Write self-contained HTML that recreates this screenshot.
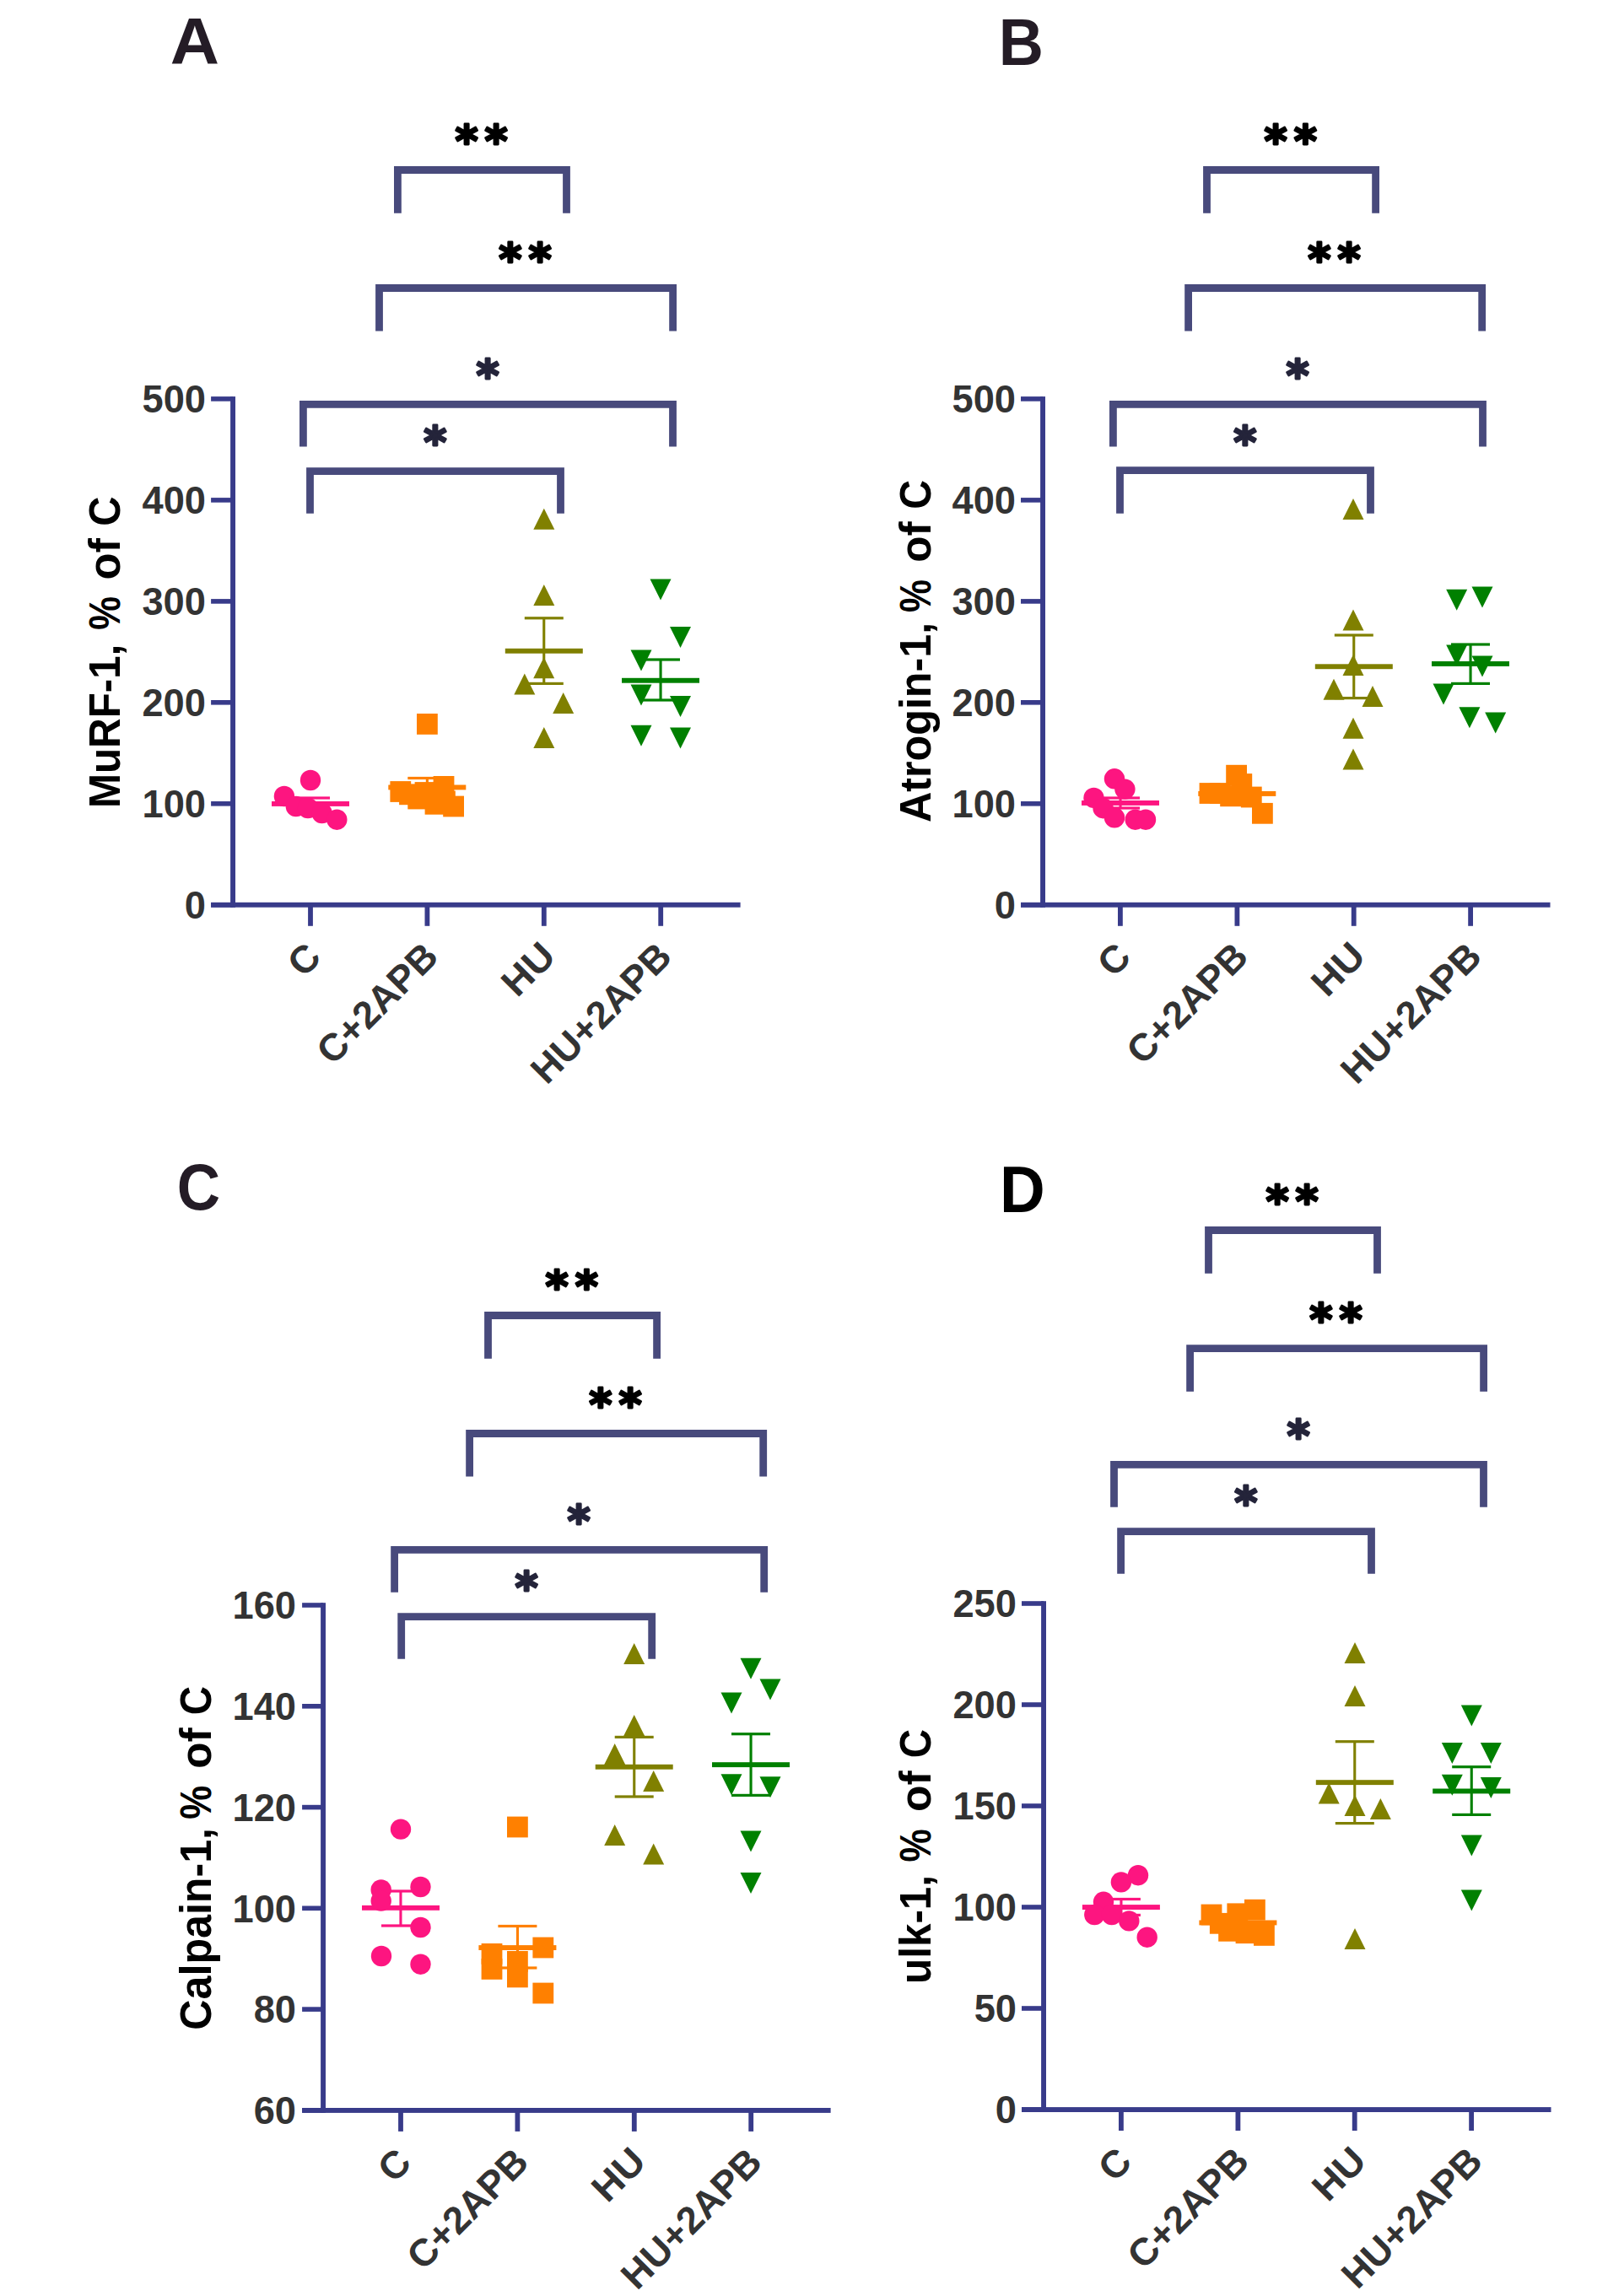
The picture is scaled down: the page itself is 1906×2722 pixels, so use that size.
<!DOCTYPE html>
<html lang="en"><head><meta charset="utf-8"><title>Figure: MuRF-1, Atrogin-1, Calpain-1, ulk-1</title>
<style>html,body{margin:0;padding:0;background:#fff}svg{display:block}text{font-family:"Liberation Sans",sans-serif;font-weight:bold;font-kerning:none}text.st{font-family:"DejaVu Sans","Liberation Sans",sans-serif}</style></head><body>
<svg width="1906" height="2722" viewBox="0 0 1906 2722">
<rect width="1906" height="2722" fill="#fff"/>
<text transform="translate(203.9 76.2) scale(1.0272 1)" x="-2" font-size="78.5" fill="#241c26">A</text>
<text transform="translate(1188.6 76.6) scale(0.9379 1)" x="-5.3" font-size="78.5" fill="#241c26">B</text>
<text transform="translate(212.6 1434.2) scale(0.9060 1)" x="-3.2" font-size="78.5" fill="#241c26">C</text>
<text transform="translate(1190.1 1436.9) scale(0.9472 1)" x="-5.3" font-size="78.5" fill="#000">D</text>
<g id="panelA">
<rect x="273.1" y="470.1" width="5.9" height="605.7" fill="#383b8a"/>
<rect x="250.1" y="1069.8" width="627.5" height="5.9" fill="#383b8a"/>
<rect x="250.1" y="1070" width="26" height="5.6" fill="#383b8a"/>
<text transform="translate(220.6 1089) scale(0.9730 1)" x="-1.8" font-size="46.5" fill="#333333">0</text>
<rect x="250.1" y="950" width="26" height="5.6" fill="#383b8a"/>
<text transform="translate(171.3 969) scale(0.9730 1)" x="-2.9" font-size="46.5" fill="#333333">100</text>
<rect x="250.1" y="830" width="26" height="5.6" fill="#383b8a"/>
<text transform="translate(170 849) scale(0.9730 1)" x="-1.6" font-size="46.5" fill="#333333">200</text>
<rect x="250.1" y="710.1" width="26" height="5.6" fill="#383b8a"/>
<text transform="translate(169.5 729.1) scale(0.9730 1)" x="-1.1" font-size="46.5" fill="#333333">300</text>
<rect x="250.1" y="590.1" width="26" height="5.6" fill="#383b8a"/>
<text transform="translate(169.2 609.1) scale(0.9730 1)" x="-0.7" font-size="46.5" fill="#333333">400</text>
<rect x="250.1" y="470.1" width="26" height="5.6" fill="#383b8a"/>
<text transform="translate(169.9 489.1) scale(0.9730 1)" x="-1.4" font-size="46.5" fill="#333333">500</text>
<rect x="365.1" y="1072.8" width="5.8" height="25" fill="#383b8a"/>
<text transform="translate(382 1138.1) rotate(-45) scale(1.0000 1)" x="-31.5" font-size="45.4" fill="#333333">C</text>
<rect x="503.5" y="1072.8" width="5.8" height="25" fill="#383b8a"/>
<text transform="translate(520.4 1138.1) rotate(-45) scale(1.0000 1)" x="-178.3" font-size="45.4" fill="#333333">C+2APB</text>
<rect x="641.9" y="1072.8" width="5.8" height="25" fill="#383b8a"/>
<text transform="translate(658.8 1138.1) rotate(-45) scale(1.0300 1)" x="-62.8" font-size="45.4" fill="#333333">HU</text>
<rect x="780.3" y="1072.8" width="5.8" height="25" fill="#383b8a"/>
<text transform="translate(797.2 1138.1) rotate(-45) scale(1.0000 1)" x="-211.1" font-size="45.4" fill="#333333">HU+2APB</text>
<text transform="translate(142 954.8) rotate(-90) scale(0.9627 1)" x="-3.4" font-size="51.2" fill="#000">MuRF-1,</text>
<text transform="translate(142 745.6) rotate(-90) scale(0.8741 1)" x="-1.3" font-size="51.2" fill="#000">%</text>
<text transform="translate(142 685.4) rotate(-90) scale(1.0210 1)" x="-2" font-size="51.2" fill="#000">of</text>
<text transform="translate(142 621.8) rotate(-90) scale(0.9559 1)" x="-2.1" font-size="51.2" fill="#000">C</text>
<rect x="322" y="950" width="92" height="5.9" fill="#fd1580"/>
<rect x="366.4" y="946" width="3.1" height="12" fill="#fd1580"/>
<rect x="345" y="944.4" width="46" height="3.2" fill="#fd1580"/>
<rect x="345" y="956.4" width="46" height="3.2" fill="#fd1580"/>
<circle cx="368" cy="925" r="12.2" fill="#fd1580"/>
<circle cx="336.9" cy="944" r="12.2" fill="#fd1580"/>
<circle cx="350.8" cy="956" r="12.2" fill="#fd1580"/>
<circle cx="365" cy="958" r="12.2" fill="#fd1580"/>
<circle cx="381.6" cy="964" r="12.2" fill="#fd1580"/>
<circle cx="399.3" cy="971.7" r="12.2" fill="#fd1580"/>
<rect x="460.3" y="930.5" width="92" height="5.9" fill="#ff8000"/>
<rect x="504.8" y="922.5" width="3.1" height="21.5" fill="#ff8000"/>
<rect x="483.3" y="920.9" width="46" height="3.2" fill="#ff8000"/>
<rect x="483.3" y="942.4" width="46" height="3.2" fill="#ff8000"/>
<rect x="494" y="846" width="24.8" height="24.8" fill="#ff8000"/>
<rect x="491.6" y="927.1" width="24.8" height="24.8" fill="#ff8000"/>
<rect x="462.4" y="926.1" width="24.8" height="24.8" fill="#ff8000"/>
<rect x="473.1" y="929.4" width="24.8" height="24.8" fill="#ff8000"/>
<rect x="483.3" y="934.6" width="24.8" height="24.8" fill="#ff8000"/>
<rect x="503.6" y="940.9" width="24.8" height="24.8" fill="#ff8000"/>
<rect x="513.6" y="920" width="24.8" height="24.8" fill="#ff8000"/>
<rect x="515" y="937.6" width="24.8" height="24.8" fill="#ff8000"/>
<rect x="525.2" y="943.6" width="24.8" height="24.8" fill="#ff8000"/>
<path d="M644.8 602.7L657.3 627.7H632.3Z" fill="#808000"/>
<path d="M644.8 693.1L657.3 718.1H632.3Z" fill="#808000"/>
<path d="M644.7 779.3L657.2 804.3H632.2Z" fill="#808000"/>
<path d="M621.8 798.6L634.3 823.6H609.3Z" fill="#808000"/>
<path d="M667.7 821.1L680.2 846.1H655.2Z" fill="#808000"/>
<path d="M644.8 862.1L657.3 887.1H632.3Z" fill="#808000"/>
<rect x="598.8" y="768.8" width="92" height="5.9" fill="#808000"/>
<rect x="643.2" y="732.8" width="3.1" height="77.6" fill="#808000"/>
<rect x="621.8" y="731.2" width="46" height="3.2" fill="#808000"/>
<rect x="621.8" y="808.8" width="46" height="3.2" fill="#808000"/>
<path d="M783 711.4L795.5 686.4H770.5Z" fill="#008000"/>
<path d="M806.5 767.9L819 742.9H794Z" fill="#008000"/>
<path d="M760 795.6L772.5 770.6H747.5Z" fill="#008000"/>
<path d="M760 836.6L772.5 811.6H747.5Z" fill="#008000"/>
<path d="M806.5 849.9L819 824.9H794Z" fill="#008000"/>
<path d="M760 884.7L772.5 859.7H747.5Z" fill="#008000"/>
<path d="M806.5 887.5L819 862.5H794Z" fill="#008000"/>
<rect x="737" y="803.8" width="92" height="5.9" fill="#008000"/>
<rect x="781.5" y="782" width="3.1" height="48" fill="#008000"/>
<rect x="760" y="780.4" width="46" height="3.2" fill="#008000"/>
<rect x="760" y="828.4" width="46" height="3.2" fill="#008000"/>
<path d="M471.4 252.8V201.5H671.5V252.8" fill="none" stroke="#484a7c" stroke-width="8.8" stroke-linejoin="miter"/>
<path d="M449.5 392.6V341.5H797.6V392.6" fill="none" stroke="#484a7c" stroke-width="8.8" stroke-linejoin="miter"/>
<path d="M359.4 529.6V479.3H797.5V529.6" fill="none" stroke="#484a7c" stroke-width="8.8" stroke-linejoin="miter"/>
<path d="M367.5 608.7V558.6H664.5V608.7" fill="none" stroke="#484a7c" stroke-width="8.8" stroke-linejoin="miter"/>
<text class="st" x="539.4" y="185" font-size="52" letter-spacing="8" fill="#000" stroke="#000" stroke-width="2.8" stroke-linejoin="round">**</text>
<text class="st" x="591.2" y="325" font-size="52" letter-spacing="8" fill="#000" stroke="#000" stroke-width="2.8" stroke-linejoin="round">**</text>
<text class="st" x="564.4" y="463" font-size="52" letter-spacing="8" fill="#24243a" stroke="#24243a" stroke-width="2.8" stroke-linejoin="round">*</text>
<text class="st" x="502.2" y="541.8" font-size="52" letter-spacing="8" fill="#24243a" stroke="#24243a" stroke-width="2.8" stroke-linejoin="round">*</text>
</g>
<g id="panelB">
<rect x="1233.1" y="470.1" width="5.9" height="605.7" fill="#383b8a"/>
<rect x="1210" y="1069.8" width="627.5" height="5.9" fill="#383b8a"/>
<rect x="1210" y="1070" width="26" height="5.6" fill="#383b8a"/>
<text transform="translate(1180.6 1089) scale(0.9730 1)" x="-1.8" font-size="46.5" fill="#333333">0</text>
<rect x="1210" y="950" width="26" height="5.6" fill="#383b8a"/>
<text transform="translate(1131.3 969) scale(0.9730 1)" x="-2.9" font-size="46.5" fill="#333333">100</text>
<rect x="1210" y="830" width="26" height="5.6" fill="#383b8a"/>
<text transform="translate(1130 849) scale(0.9730 1)" x="-1.6" font-size="46.5" fill="#333333">200</text>
<rect x="1210" y="710.1" width="26" height="5.6" fill="#383b8a"/>
<text transform="translate(1129.5 729.1) scale(0.9730 1)" x="-1.1" font-size="46.5" fill="#333333">300</text>
<rect x="1210" y="590.1" width="26" height="5.6" fill="#383b8a"/>
<text transform="translate(1129.2 609.1) scale(0.9730 1)" x="-0.7" font-size="46.5" fill="#333333">400</text>
<rect x="1210" y="470.1" width="26" height="5.6" fill="#383b8a"/>
<text transform="translate(1129.9 489.1) scale(0.9730 1)" x="-1.4" font-size="46.5" fill="#333333">500</text>
<rect x="1325" y="1072.8" width="5.8" height="25" fill="#383b8a"/>
<text transform="translate(1342 1138.1) rotate(-45) scale(1.0000 1)" x="-31.5" font-size="45.4" fill="#333333">C</text>
<rect x="1463.5" y="1072.8" width="5.8" height="25" fill="#383b8a"/>
<text transform="translate(1480.4 1138.1) rotate(-45) scale(1.0000 1)" x="-178.3" font-size="45.4" fill="#333333">C+2APB</text>
<rect x="1601.8" y="1072.8" width="5.8" height="25" fill="#383b8a"/>
<text transform="translate(1618.8 1138.1) rotate(-45) scale(1.0300 1)" x="-62.8" font-size="45.4" fill="#333333">HU</text>
<rect x="1740.2" y="1072.8" width="5.8" height="25" fill="#383b8a"/>
<text transform="translate(1757.2 1138.1) rotate(-45) scale(1.0000 1)" x="-211.1" font-size="45.4" fill="#333333">HU+2APB</text>
<text transform="translate(1103 973.7) rotate(-90) scale(0.9808 1)" x="-1.3" font-size="51.2" fill="#000">Atrogin-1,</text>
<text transform="translate(1103 724.8) rotate(-90) scale(0.8555 1)" x="-1.3" font-size="51.2" fill="#000">%</text>
<text transform="translate(1103 664.7) rotate(-90) scale(1.0016 1)" x="-2" font-size="51.2" fill="#000">of</text>
<text transform="translate(1103 601.7) rotate(-90) scale(0.9440 1)" x="-2.1" font-size="51.2" fill="#000">C</text>
<rect x="1282" y="949" width="92" height="5.9" fill="#fd1580"/>
<rect x="1326.5" y="946" width="3.1" height="12" fill="#fd1580"/>
<rect x="1305" y="944.4" width="46" height="3.2" fill="#fd1580"/>
<rect x="1305" y="956.4" width="46" height="3.2" fill="#fd1580"/>
<circle cx="1321" cy="923.3" r="12.2" fill="#fd1580"/>
<circle cx="1333.4" cy="935.6" r="12.2" fill="#fd1580"/>
<circle cx="1296.5" cy="945.9" r="12.2" fill="#fd1580"/>
<circle cx="1307.6" cy="958.2" r="12.2" fill="#fd1580"/>
<circle cx="1321" cy="969.3" r="12.2" fill="#fd1580"/>
<circle cx="1345.7" cy="971.7" r="12.2" fill="#fd1580"/>
<circle cx="1358" cy="971.7" r="12.2" fill="#fd1580"/>
<rect x="1420.3" y="938" width="92" height="5.9" fill="#ff8000"/>
<rect x="1464.8" y="935" width="3.1" height="12" fill="#ff8000"/>
<rect x="1443.3" y="933.4" width="46" height="3.2" fill="#ff8000"/>
<rect x="1443.3" y="945.4" width="46" height="3.2" fill="#ff8000"/>
<rect x="1453.2" y="906.8" width="24.8" height="24.8" fill="#ff8000"/>
<rect x="1459.4" y="917.1" width="24.8" height="24.8" fill="#ff8000"/>
<rect x="1421.6" y="928.1" width="24.8" height="24.8" fill="#ff8000"/>
<rect x="1433.9" y="928.1" width="24.8" height="24.8" fill="#ff8000"/>
<rect x="1446.2" y="931.4" width="24.8" height="24.8" fill="#ff8000"/>
<rect x="1470.9" y="932.6" width="24.8" height="24.8" fill="#ff8000"/>
<rect x="1484" y="951.9" width="24.8" height="24.8" fill="#ff8000"/>
<path d="M1604 591.1L1616.5 616.1H1591.5Z" fill="#808000"/>
<path d="M1604 722.6L1616.5 747.6H1591.5Z" fill="#808000"/>
<path d="M1604 776.1L1616.5 801.1H1591.5Z" fill="#808000"/>
<path d="M1581 804.7L1593.5 829.7H1568.5Z" fill="#808000"/>
<path d="M1627 812.9L1639.5 837.9H1614.5Z" fill="#808000"/>
<path d="M1604 850.7L1616.5 875.7H1591.5Z" fill="#808000"/>
<path d="M1604 887.6L1616.5 912.6H1591.5Z" fill="#808000"/>
<rect x="1558.8" y="787.3" width="92" height="5.9" fill="#808000"/>
<rect x="1603.2" y="753" width="3.1" height="74.6" fill="#808000"/>
<rect x="1581.8" y="751.4" width="46" height="3.2" fill="#808000"/>
<rect x="1581.8" y="826" width="46" height="3.2" fill="#808000"/>
<path d="M1726.7 723.7L1739.2 698.7H1714.2Z" fill="#008000"/>
<path d="M1757 720.4L1769.5 695.4H1744.5Z" fill="#008000"/>
<path d="M1726.7 789.4L1739.2 764.4H1714.2Z" fill="#008000"/>
<path d="M1757 802.5L1769.5 777.5H1744.5Z" fill="#008000"/>
<path d="M1711 835.4L1723.5 810.4H1698.5Z" fill="#008000"/>
<path d="M1741.9 863.3L1754.4 838.3H1729.4Z" fill="#008000"/>
<path d="M1772.7 869.5L1785.2 844.5H1760.2Z" fill="#008000"/>
<rect x="1697" y="784" width="92" height="5.9" fill="#008000"/>
<rect x="1741.5" y="764" width="3.1" height="46.4" fill="#008000"/>
<rect x="1720" y="762.4" width="46" height="3.2" fill="#008000"/>
<rect x="1720" y="808.8" width="46" height="3.2" fill="#008000"/>
<path d="M1430.5 252.8V201.5H1630.6V252.8" fill="none" stroke="#484a7c" stroke-width="8.8" stroke-linejoin="miter"/>
<path d="M1408.6 392.6V341.5H1756.7V392.6" fill="none" stroke="#484a7c" stroke-width="8.8" stroke-linejoin="miter"/>
<path d="M1319.4 529.6V479.3H1757.5V529.6" fill="none" stroke="#484a7c" stroke-width="8.8" stroke-linejoin="miter"/>
<path d="M1327.5 608.7V557.6H1624.5V608.7" fill="none" stroke="#484a7c" stroke-width="8.8" stroke-linejoin="miter"/>
<text class="st" x="1498.5" y="185" font-size="52" letter-spacing="8" fill="#000" stroke="#000" stroke-width="2.8" stroke-linejoin="round">**</text>
<text class="st" x="1550.3" y="325" font-size="52" letter-spacing="8" fill="#000" stroke="#000" stroke-width="2.8" stroke-linejoin="round">**</text>
<text class="st" x="1524.4" y="463" font-size="52" letter-spacing="8" fill="#24243a" stroke="#24243a" stroke-width="2.8" stroke-linejoin="round">*</text>
<text class="st" x="1462.2" y="541.8" font-size="52" letter-spacing="8" fill="#24243a" stroke="#24243a" stroke-width="2.8" stroke-linejoin="round">*</text>
</g>
<g id="panelC">
<rect x="380.1" y="1900.2" width="5.9" height="604.6" fill="#383b8a"/>
<rect x="358.1" y="2499" width="626.5" height="5.9" fill="#383b8a"/>
<rect x="358.1" y="2499.1" width="25" height="5.6" fill="#383b8a"/>
<text transform="translate(302.3 2518.1) scale(0.9730 1)" x="-1.7" font-size="46.5" fill="#333333">60</text>
<rect x="358.1" y="2379.3" width="25" height="5.6" fill="#383b8a"/>
<text transform="translate(302.1 2398.3) scale(0.9730 1)" x="-1.5" font-size="46.5" fill="#333333">80</text>
<rect x="358.1" y="2259.5" width="25" height="5.6" fill="#383b8a"/>
<text transform="translate(278.3 2278.5) scale(0.9730 1)" x="-2.9" font-size="46.5" fill="#333333">100</text>
<rect x="358.1" y="2139.8" width="25" height="5.6" fill="#383b8a"/>
<text transform="translate(278.3 2158.8) scale(0.9730 1)" x="-2.9" font-size="46.5" fill="#333333">120</text>
<rect x="358.1" y="2020" width="25" height="5.6" fill="#383b8a"/>
<text transform="translate(278.3 2039) scale(0.9730 1)" x="-2.9" font-size="46.5" fill="#333333">140</text>
<rect x="358.1" y="1900.2" width="25" height="5.6" fill="#383b8a"/>
<text transform="translate(278.3 1919.2) scale(0.9730 1)" x="-2.9" font-size="46.5" fill="#333333">160</text>
<rect x="472.1" y="2501.9" width="5.8" height="25" fill="#383b8a"/>
<text transform="translate(489 2567.2) rotate(-45) scale(1.0000 1)" x="-31.5" font-size="45.4" fill="#333333">C</text>
<rect x="610.5" y="2501.9" width="5.8" height="25" fill="#383b8a"/>
<text transform="translate(627.4 2567.2) rotate(-45) scale(1.0000 1)" x="-178.3" font-size="45.4" fill="#333333">C+2APB</text>
<rect x="748.9" y="2501.9" width="5.8" height="25" fill="#383b8a"/>
<text transform="translate(765.8 2567.2) rotate(-45) scale(1.0300 1)" x="-62.8" font-size="45.4" fill="#333333">HU</text>
<rect x="887.3" y="2501.9" width="5.8" height="25" fill="#383b8a"/>
<text transform="translate(904.2 2567.2) rotate(-45) scale(1.0000 1)" x="-211.1" font-size="45.4" fill="#333333">HU+2APB</text>
<text transform="translate(250.4 2404.6) rotate(-90) scale(0.9797 1)" x="-2.1" font-size="51.2" fill="#000">Calpain-1,</text>
<text transform="translate(250.4 2155.7) rotate(-90) scale(0.8765 1)" x="-1.3" font-size="51.2" fill="#000">%</text>
<text transform="translate(250.4 2094.7) rotate(-90) scale(1.0016 1)" x="-2" font-size="51.2" fill="#000">of</text>
<text transform="translate(250.4 2031.2) rotate(-90) scale(0.9291 1)" x="-2.1" font-size="51.2" fill="#000">C</text>
<rect x="429" y="2258.9" width="92" height="5.9" fill="#fd1580"/>
<rect x="473.4" y="2242" width="3.1" height="41" fill="#fd1580"/>
<rect x="452" y="2240.4" width="46" height="3.2" fill="#fd1580"/>
<rect x="452" y="2281.4" width="46" height="3.2" fill="#fd1580"/>
<circle cx="475" cy="2168.6" r="12.2" fill="#fd1580"/>
<circle cx="451.7" cy="2240.4" r="12.2" fill="#fd1580"/>
<circle cx="451.7" cy="2253.6" r="12.2" fill="#fd1580"/>
<circle cx="498.5" cy="2237" r="12.2" fill="#fd1580"/>
<circle cx="498.5" cy="2285" r="12.2" fill="#fd1580"/>
<circle cx="452" cy="2319" r="12.2" fill="#fd1580"/>
<circle cx="498.5" cy="2328.7" r="12.2" fill="#fd1580"/>
<rect x="567.4" y="2306.1" width="92" height="5.9" fill="#ff8000"/>
<rect x="611.9" y="2283.5" width="3.1" height="49.5" fill="#ff8000"/>
<rect x="590.4" y="2281.9" width="46" height="3.2" fill="#ff8000"/>
<rect x="590.4" y="2331.4" width="46" height="3.2" fill="#ff8000"/>
<rect x="601" y="2153.6" width="24.8" height="24.8" fill="#ff8000"/>
<rect x="570.6" y="2304" width="24.8" height="24.8" fill="#ff8000"/>
<rect x="570.6" y="2322" width="24.8" height="24.8" fill="#ff8000"/>
<rect x="601" y="2313" width="24.8" height="24.8" fill="#ff8000"/>
<rect x="601" y="2331.5" width="24.8" height="24.8" fill="#ff8000"/>
<rect x="631.4" y="2296.6" width="24.8" height="24.8" fill="#ff8000"/>
<rect x="631.4" y="2350.6" width="24.8" height="24.8" fill="#ff8000"/>
<path d="M751.7 1948.1L764.2 1973.1H739.2Z" fill="#808000"/>
<path d="M751.7 2033.1L764.2 2058.1H739.2Z" fill="#808000"/>
<path d="M728.7 2067.1L741.2 2092.1H716.2Z" fill="#808000"/>
<path d="M774.7 2099.1L787.2 2124.1H762.2Z" fill="#808000"/>
<path d="M728.7 2162.9L741.2 2187.9H716.2Z" fill="#808000"/>
<path d="M774.7 2185.5L787.2 2210.5H762.2Z" fill="#808000"/>
<rect x="705.7" y="2091.8" width="92" height="5.9" fill="#808000"/>
<rect x="750.2" y="2059.4" width="3.1" height="70.6" fill="#808000"/>
<rect x="728.7" y="2057.8" width="46" height="3.2" fill="#808000"/>
<rect x="728.7" y="2128.4" width="46" height="3.2" fill="#808000"/>
<path d="M890 1990.8L902.5 1965.8H877.5Z" fill="#008000"/>
<path d="M913 2015.4L925.5 1990.4H900.5Z" fill="#008000"/>
<path d="M867 2031.4L879.5 2006.4H854.5Z" fill="#008000"/>
<path d="M867 2128.3L879.5 2103.3H854.5Z" fill="#008000"/>
<path d="M913 2131.2L925.5 2106.2H900.5Z" fill="#008000"/>
<path d="M890 2195.6L902.5 2170.6H877.5Z" fill="#008000"/>
<path d="M890 2244.9L902.5 2219.9H877.5Z" fill="#008000"/>
<rect x="844" y="2089.2" width="92" height="5.9" fill="#008000"/>
<rect x="888.5" y="2055.7" width="3.1" height="72.7" fill="#008000"/>
<rect x="867" y="2054.1" width="46" height="3.2" fill="#008000"/>
<rect x="867" y="2126.8" width="46" height="3.2" fill="#008000"/>
<path d="M578.5 1610.8V1559.5H778.6V1610.8" fill="none" stroke="#484a7c" stroke-width="8.8" stroke-linejoin="miter"/>
<path d="M556.6 1750.6V1699.5H904.7V1750.6" fill="none" stroke="#484a7c" stroke-width="8.8" stroke-linejoin="miter"/>
<path d="M467.6 1887.7V1837.3H905.7V1887.7" fill="none" stroke="#484a7c" stroke-width="8.8" stroke-linejoin="miter"/>
<path d="M475.7 1966.7V1916.6H772.7V1966.7" fill="none" stroke="#484a7c" stroke-width="8.8" stroke-linejoin="miter"/>
<text class="st" x="646.5" y="1543" font-size="52" letter-spacing="8" fill="#000" stroke="#000" stroke-width="2.8" stroke-linejoin="round">**</text>
<text class="st" x="698.3" y="1683" font-size="52" letter-spacing="8" fill="#000" stroke="#000" stroke-width="2.8" stroke-linejoin="round">**</text>
<text class="st" x="672.6" y="1821" font-size="52" letter-spacing="8" fill="#24243a" stroke="#24243a" stroke-width="2.8" stroke-linejoin="round">*</text>
<text class="st" x="610.4" y="1899.8" font-size="52" letter-spacing="8" fill="#24243a" stroke="#24243a" stroke-width="2.8" stroke-linejoin="round">*</text>
</g>
<g id="panelD">
<rect x="1234.1" y="1898.2" width="5.9" height="605.7" fill="#383b8a"/>
<rect x="1211" y="2498.1" width="627.5" height="5.9" fill="#383b8a"/>
<rect x="1211" y="2498.2" width="26" height="5.6" fill="#383b8a"/>
<text transform="translate(1181.6 2517.2) scale(0.9730 1)" x="-1.8" font-size="46.5" fill="#333333">0</text>
<rect x="1211" y="2378.2" width="26" height="5.6" fill="#383b8a"/>
<text transform="translate(1156 2397.2) scale(0.9730 1)" x="-1.4" font-size="46.5" fill="#333333">50</text>
<rect x="1211" y="2258.2" width="26" height="5.6" fill="#383b8a"/>
<text transform="translate(1132.3 2277.2) scale(0.9730 1)" x="-2.9" font-size="46.5" fill="#333333">100</text>
<rect x="1211" y="2138.2" width="26" height="5.6" fill="#383b8a"/>
<text transform="translate(1132.3 2157.2) scale(0.9730 1)" x="-2.9" font-size="46.5" fill="#333333">150</text>
<rect x="1211" y="2018.2" width="26" height="5.6" fill="#383b8a"/>
<text transform="translate(1131 2037.2) scale(0.9730 1)" x="-1.6" font-size="46.5" fill="#333333">200</text>
<rect x="1211" y="1898.2" width="26" height="5.6" fill="#383b8a"/>
<text transform="translate(1131 1917.2) scale(0.9730 1)" x="-1.6" font-size="46.5" fill="#333333">250</text>
<rect x="1326" y="2501" width="5.8" height="25" fill="#383b8a"/>
<text transform="translate(1343 2566.3) rotate(-45) scale(1.0000 1)" x="-31.5" font-size="45.4" fill="#333333">C</text>
<rect x="1464.5" y="2501" width="5.8" height="25" fill="#383b8a"/>
<text transform="translate(1481.4 2566.3) rotate(-45) scale(1.0000 1)" x="-178.3" font-size="45.4" fill="#333333">C+2APB</text>
<rect x="1602.8" y="2501" width="5.8" height="25" fill="#383b8a"/>
<text transform="translate(1619.8 2566.3) rotate(-45) scale(1.0300 1)" x="-62.8" font-size="45.4" fill="#333333">HU</text>
<rect x="1741.2" y="2501" width="5.8" height="25" fill="#383b8a"/>
<text transform="translate(1758.2 2566.3) rotate(-45) scale(1.0000 1)" x="-211.1" font-size="45.4" fill="#333333">HU+2APB</text>
<text transform="translate(1103 2348.8) rotate(-90) scale(0.9644 1)" x="-3.2" font-size="51.2" fill="#000">ulk-1,</text>
<text transform="translate(1103 2206.4) rotate(-90) scale(0.8625 1)" x="-1.3" font-size="51.2" fill="#000">%</text>
<text transform="translate(1103 2146) rotate(-90) scale(1.0059 1)" x="-2" font-size="51.2" fill="#000">of</text>
<text transform="translate(1103 2082.4) rotate(-90) scale(0.9291 1)" x="-2.1" font-size="51.2" fill="#000">C</text>
<rect x="1282.9" y="2258.1" width="92" height="5.9" fill="#fd1580"/>
<rect x="1327.4" y="2251.5" width="3.1" height="18.9" fill="#fd1580"/>
<rect x="1305.9" y="2249.9" width="46" height="3.2" fill="#fd1580"/>
<rect x="1305.9" y="2268.8" width="46" height="3.2" fill="#fd1580"/>
<circle cx="1349" cy="2223.2" r="12.2" fill="#fd1580"/>
<circle cx="1328.9" cy="2231.4" r="12.2" fill="#fd1580"/>
<circle cx="1308" cy="2254.8" r="12.2" fill="#fd1580"/>
<circle cx="1297.3" cy="2270" r="12.2" fill="#fd1580"/>
<circle cx="1317.8" cy="2270" r="12.2" fill="#fd1580"/>
<circle cx="1338.3" cy="2277.4" r="12.2" fill="#fd1580"/>
<circle cx="1359.7" cy="2296.7" r="12.2" fill="#fd1580"/>
<rect x="1421.4" y="2276.5" width="92" height="5.9" fill="#ff8000"/>
<rect x="1465.9" y="2273" width="3.1" height="13" fill="#ff8000"/>
<rect x="1444.4" y="2271.4" width="46" height="3.2" fill="#ff8000"/>
<rect x="1444.4" y="2284.4" width="46" height="3.2" fill="#ff8000"/>
<rect x="1423.6" y="2257.6" width="24.8" height="24.8" fill="#ff8000"/>
<rect x="1433.9" y="2267.9" width="24.8" height="24.8" fill="#ff8000"/>
<rect x="1444.2" y="2276.9" width="24.8" height="24.8" fill="#ff8000"/>
<rect x="1454.4" y="2256.4" width="24.8" height="24.8" fill="#ff8000"/>
<rect x="1464.6" y="2279.3" width="24.8" height="24.8" fill="#ff8000"/>
<rect x="1475" y="2251.8" width="24.8" height="24.8" fill="#ff8000"/>
<rect x="1486" y="2282" width="24.8" height="24.8" fill="#ff8000"/>
<path d="M1606 1947L1618.5 1972H1593.5Z" fill="#808000"/>
<path d="M1606 1998.1L1618.5 2023.1H1593.5Z" fill="#808000"/>
<path d="M1575.2 2113.6L1587.7 2138.6H1562.7Z" fill="#808000"/>
<path d="M1606 2128.1L1618.5 2153.1H1593.5Z" fill="#808000"/>
<path d="M1636.4 2132.1L1648.9 2157.1H1623.9Z" fill="#808000"/>
<path d="M1606 2286.1L1618.5 2311.1H1593.5Z" fill="#808000"/>
<rect x="1559.8" y="2110.2" width="92" height="5.9" fill="#808000"/>
<rect x="1604.2" y="2064.7" width="3.1" height="96.9" fill="#808000"/>
<rect x="1582.8" y="2063.1" width="46" height="3.2" fill="#808000"/>
<rect x="1582.8" y="2160" width="46" height="3.2" fill="#808000"/>
<path d="M1744.3 2046.6L1756.8 2021.6H1731.8Z" fill="#008000"/>
<path d="M1721.3 2090.9L1733.8 2065.9H1708.8Z" fill="#008000"/>
<path d="M1767.3 2090.9L1779.8 2065.9H1754.8Z" fill="#008000"/>
<path d="M1721.3 2128.7L1733.8 2103.7H1708.8Z" fill="#008000"/>
<path d="M1767.3 2131.9L1779.8 2106.9H1754.8Z" fill="#008000"/>
<path d="M1744.3 2200.6L1756.8 2175.6H1731.8Z" fill="#008000"/>
<path d="M1744.3 2265.4L1756.8 2240.4H1731.8Z" fill="#008000"/>
<rect x="1698.2" y="2120.5" width="92" height="5.9" fill="#008000"/>
<rect x="1742.7" y="2094.7" width="3.1" height="56.7" fill="#008000"/>
<rect x="1721.2" y="2093.1" width="46" height="3.2" fill="#008000"/>
<rect x="1721.2" y="2149.8" width="46" height="3.2" fill="#008000"/>
<path d="M1432.5 1509.8V1458.5H1632.5V1509.8" fill="none" stroke="#484a7c" stroke-width="8.8" stroke-linejoin="miter"/>
<path d="M1410.6 1649.7V1598.6H1758.6V1649.7" fill="none" stroke="#484a7c" stroke-width="8.8" stroke-linejoin="miter"/>
<path d="M1320.5 1786.7V1736.3H1758.5V1786.7" fill="none" stroke="#484a7c" stroke-width="8.8" stroke-linejoin="miter"/>
<path d="M1328.6 1865.8V1815.7H1625.5V1865.8" fill="none" stroke="#484a7c" stroke-width="8.8" stroke-linejoin="miter"/>
<text class="st" x="1500.4" y="1442.1" font-size="52" letter-spacing="8" fill="#000" stroke="#000" stroke-width="2.8" stroke-linejoin="round">**</text>
<text class="st" x="1552.2" y="1582.1" font-size="52" letter-spacing="8" fill="#000" stroke="#000" stroke-width="2.8" stroke-linejoin="round">**</text>
<text class="st" x="1525.4" y="1720.1" font-size="52" letter-spacing="8" fill="#24243a" stroke="#24243a" stroke-width="2.8" stroke-linejoin="round">*</text>
<text class="st" x="1463.2" y="1798.9" font-size="52" letter-spacing="8" fill="#24243a" stroke="#24243a" stroke-width="2.8" stroke-linejoin="round">*</text>
</g>
</svg></body></html>
